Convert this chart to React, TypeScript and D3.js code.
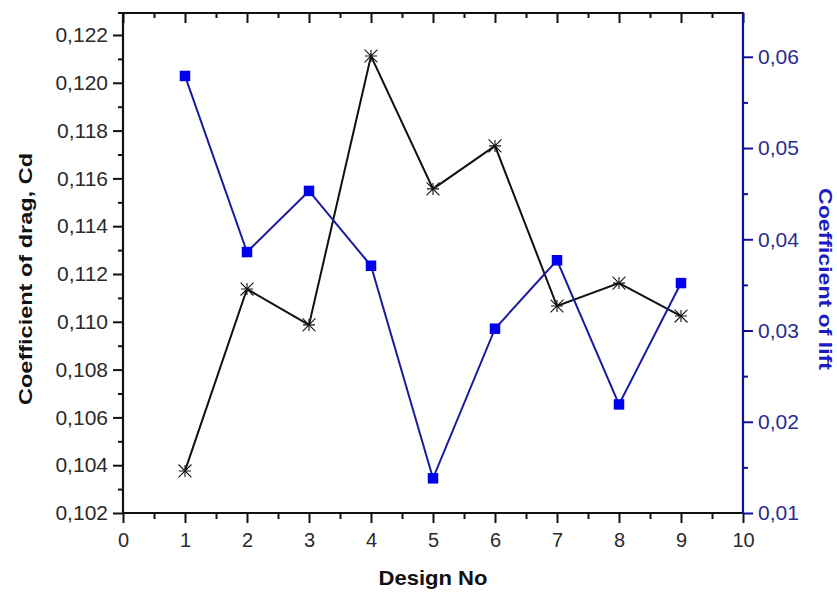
import React, { useEffect, useRef } from 'react';
import * as d3 from 'd3';

// values
const designNo = [1, 2, 3, 4, 5, 6, 7, 8, 9];
const dragCd = [0.10376, 0.11137, 0.10987, 0.12112, 0.11556, 0.11736, 0.11066, 0.11162, 0.11024];
const liftCl = [0.0579, 0.0386, 0.0453, 0.0371, 0.0138, 0.0302, 0.0377, 0.0219, 0.0352];

const xTicks = [0, 1, 2, 3, 4, 5, 6, 7, 8, 9, 10];
const leftTicks = [0.102, 0.104, 0.106, 0.108, 0.11, 0.112, 0.114, 0.116, 0.118, 0.12, 0.122];
const rightTicks = [0.01, 0.02, 0.03, 0.04, 0.05, 0.06];

const W = 837;
const H = 592;

export default function App() {
  const ref = useRef<SVGSVGElement>(null);

  useEffect(() => {
    const svg = d3.select(ref.current);
    svg.selectAll('*').remove();

    const left = 123, right = 743, top = 13, bottom = 513;
    const blue = '#10109c';
    const font = 'Arial, "Liberation Sans", sans-serif';
    const comma = d3.formatLocale({ decimal: ',', thousands: '.', grouping: [3], currency: ['', ''] });

    const x = d3.scaleLinear().domain([0, 10]).range([left, right]);
    const yL = d3.scaleLinear().domain([0.102, 0.12292]).range([bottom, top]);
    const yR = d3.scaleLinear().domain([0.01, 0.0648]).range([bottom, top]);

    const xMinor = xTicks.slice(0, -1).map(t => t + 0.5);
    const leftMinor = leftTicks.map(t => t + 0.001).filter(t => t < 0.1229);
    const rightMinor = rightTicks.map(t => t + 0.005).filter(t => t < 0.0648);

    const styleAxis = (g, color) => {
      g.select('.domain').remove();
      g.selectAll('line').attr('stroke', color).attr('stroke-width', 2);
      g.selectAll('text').attr('fill', color).style('font-family', font).style('font-size', '20px');
    };

    // bottom axis
    svg.append('g')
      .attr('transform', `translate(0,${bottom})`)
      .call(d3.axisBottom(x).tickValues(xMinor).tickSize(6).tickFormat(() => ''))
      .call(g => styleAxis(g, '#111'));
    const gx = svg.append('g')
      .attr('transform', `translate(0,${bottom})`)
      .call(d3.axisBottom(x).tickValues(xTicks).tickSize(10).tickFormat(d3.format('d')))
      .call(g => styleAxis(g, '#111'));
    gx.selectAll('text').attr('fill', '#2a2a2a').attr('y', 27).attr('dy', '0.35em')
      .style('font-size', '20px');

    // top axis, ticks inside
    svg.append('g')
      .attr('transform', `translate(0,${top})`)
      .call(d3.axisBottom(x).tickValues(xMinor).tickSize(5).tickFormat(() => ''))
      .call(g => styleAxis(g, '#111'));
    svg.append('g')
      .attr('transform', `translate(0,${top})`)
      .call(d3.axisBottom(x).tickValues(xTicks).tickSize(10).tickFormat(() => ''))
      .call(g => styleAxis(g, '#111'));

    // left axis
    svg.append('g')
      .attr('transform', `translate(${left},0)`)
      .call(d3.axisLeft(yL).tickValues(leftMinor).tickSize(5).tickFormat(() => ''))
      .call(g => styleAxis(g, '#111'));
    svg.append('g')
      .attr('transform', `translate(${left},0)`)
      .call(d3.axisLeft(yL).tickValues(leftTicks).tickSize(10).tickPadding(5).tickFormat(comma.format('.3f')))
      .call(g => styleAxis(g, '#111'))
      .selectAll('text').attr('fill', '#2a2a2a').style('font-size', '21px');

    // right axis
    svg.append('g')
      .attr('transform', `translate(${right},0)`)
      .call(d3.axisRight(yR).tickValues(rightMinor).tickSize(5).tickFormat(() => ''))
      .call(g => styleAxis(g, blue));
    svg.append('g')
      .attr('transform', `translate(${right},0)`)
      .call(d3.axisRight(yR).tickValues(rightTicks).tickSize(10).tickPadding(5).tickFormat(comma.format('.2f')))
      .call(g => styleAxis(g, blue))
      .selectAll('text').attr('fill', '#2b2b90').style('font-size', '21px');

    // frame lines
    svg.append('line').attr('x1', left - 5).attr('x2', right).attr('y1', top).attr('y2', top)
      .attr('stroke', '#111').attr('stroke-width', 2.2);
    svg.append('line').attr('x1', left).attr('x2', right).attr('y1', bottom).attr('y2', bottom)
      .attr('stroke', '#111').attr('stroke-width', 2.2);
    svg.append('line').attr('x1', left).attr('x2', left).attr('y1', top).attr('y2', bottom)
      .attr('stroke', '#111').attr('stroke-width', 2.2);
    svg.append('line').attr('x1', right).attr('x2', right).attr('y1', top - 1).attr('y2', bottom + 1)
      .attr('stroke', blue).attr('stroke-width', 2.2);

    // drag series
    const dragLine = d3.line<number>().x((d, i) => x(designNo[i])).y(d => yL(d));
    svg.append('path').attr('d', dragLine(dragCd)).attr('fill', 'none')
      .attr('stroke', '#111').attr('stroke-width', 2);
    const times = d3.symbol(d3.symbolTimes, 110)();
    const stars = svg.append('g').selectAll('g').data(dragCd).enter().append('g')
      .attr('transform', (d, i) => `translate(${x(designNo[i])},${yL(d)})`);
    stars.append('path').attr('d', 'M-6,0H6M0,-6V6').attr('stroke', '#111').attr('stroke-width', 1.1);
    stars.append('path').attr('d', times).attr('fill', 'none').attr('stroke', '#111').attr('stroke-width', 1.1);

    // lift series
    const liftLine = d3.line<number>().x((d, i) => x(designNo[i])).y(d => yR(d));
    svg.append('path').attr('d', liftLine(liftCl)).attr('fill', 'none')
      .attr('stroke', '#1a1aa0').attr('stroke-width', 2);
    svg.append('g').selectAll('path').data(liftCl).enter().append('path')
      .attr('d', d3.symbol(d3.symbolSquare, 110)())
      .attr('transform', (d, i) => `translate(${x(designNo[i])},${yR(d)})`)
      .attr('fill', '#0000ee');

    // axis titles
    svg.append('text')
      .attr('transform', 'translate(25,279) rotate(-90)')
      .attr('text-anchor', 'middle').attr('dy', '0.35em')
      .attr('textLength', 252).attr('lengthAdjust', 'spacingAndGlyphs')
      .style('font-family', font).style('font-weight', 'bold').style('font-size', '19px')
      .attr('fill', '#111').text('Coefficient of drag, Cd');
    svg.append('text')
      .attr('transform', 'translate(826,279) rotate(90)')
      .attr('text-anchor', 'middle').attr('dy', '0.35em')
      .attr('textLength', 182).attr('lengthAdjust', 'spacingAndGlyphs')
      .style('font-family', font).style('font-weight', 'bold').style('font-size', '19px')
      .attr('fill', '#1c1cc4').text('Coefficient of lift');
    svg.append('text')
      .attr('x', 433).attr('y', 578)
      .attr('text-anchor', 'middle').attr('dy', '0.35em')
      .attr('textLength', 109).attr('lengthAdjust', 'spacingAndGlyphs')
      .style('font-family', font).style('font-weight', 'bold').style('font-size', '21px')
      .attr('fill', '#111').text('Design No');
  }, []);

  return (
    <svg
      ref={ref}
      width={W}
      height={H}
      style={{ position: 'absolute', left: 0, top: 0, background: '#fff' }}
    />
  );
}
